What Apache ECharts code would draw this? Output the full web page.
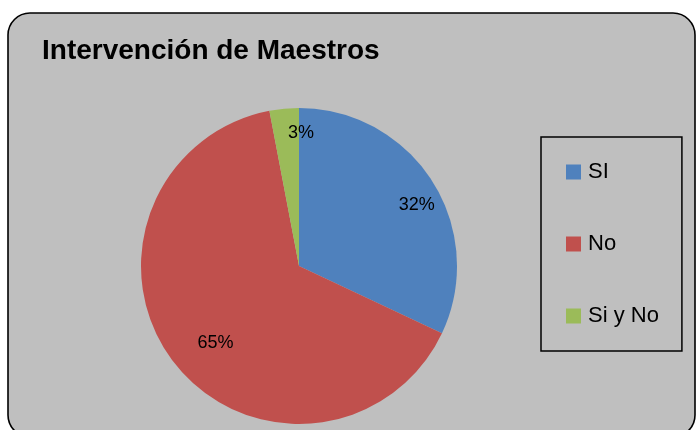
<!DOCTYPE html>
<html>
<head>
<meta charset="utf-8">
<style>
  html, body { margin: 0; padding: 0; background: #ffffff; }
  #chart { width: 696px; height: 430px; }
</style>
<script src="https://cdn.jsdelivr.net/npm/echarts@6/dist/echarts.min.js"></script>
</head>
<body>
<div id="chart"></div>
<script>
// Survey answers: share of teacher intervention (percent)
const categories = ['SI', 'No', 'Si y No'];
const values = [32, 65, 3];
const sliceColors = ['#4F81BD', '#C0504D', '#9BBB59'];

// Pie geometry (pixels)
const pieCenter = [299, 266];
const pieRadius = 158;

// Label placement: fraction of radius and angular shift (degrees) from slice middle
const labelRadiusFrac = [0.84, 0.72, 0.84];
const labelAngleShift = [5, -5, 6.3];

const total = values.reduce((a, b) => a + b, 0);
const midAngles = [];
let acc = 0;
values.forEach(v => {
  midAngles.push((acc + v / 2) / total * 360);
  acc += v;
});

const chart = echarts.init(document.getElementById('chart'), null, { renderer: 'canvas' });

chart.setOption({
  backgroundColor: '#ffffff',
  animation: false,
  graphic: [{
    type: 'rect',
    z: -10,
    shape: { x: 8, y: 13, width: 687, height: 424, r: 22 },
    style: { fill: '#BFBFBF', stroke: '#000000', lineWidth: 1.6 }
  }],
  title: {
    text: 'Intervención de Maestros',
    left: 42,
    top: 37,
    padding: 0,
    textStyle: {
      fontFamily: 'Liberation Sans',
      fontWeight: 'bold',
      fontSize: 28,
      color: '#000000'
    }
  },
  legend: {
    orient: 'vertical',
    left: 541,
    top: 137,
    padding: [24, 23, 24, 25],
    borderColor: '#000000',
    borderWidth: 1.5,
    icon: 'rect',
    itemWidth: 15,
    itemHeight: 15,
    itemGap: 50,
    data: categories,
    textStyle: {
      fontFamily: 'Liberation Sans',
      fontSize: 22,
      lineHeight: 22,
      color: '#000000',
      padding: [0, 0, 0, 2]
    }
  },
  series: [{
    type: 'pie',
    center: pieCenter,
    radius: pieRadius,
    startAngle: 90,
    clockwise: true,
    color: sliceColors,
    itemStyle: { borderWidth: 0 },
    emphasis: { disabled: true },
    data: categories.map((name, i) => ({ name: name, value: values[i] })),
    label: {
      show: true,
      position: 'inside',
      formatter: p => p.value + '%',
      fontFamily: 'Liberation Sans',
      fontSize: 18,
      color: '#000000'
    },
    labelLine: { show: false },
    labelLayout: function (params) {
      const i = params.dataIndex;
      const ang = (midAngles[i] + labelAngleShift[i]) * Math.PI / 180;
      const r = pieRadius * labelRadiusFrac[i];
      return {
        x: pieCenter[0] + r * Math.sin(ang),
        y: pieCenter[1] - r * Math.cos(ang),
        align: 'center',
        verticalAlign: 'middle'
      };
    }
  }]
});
</script>
</body>
</html>
